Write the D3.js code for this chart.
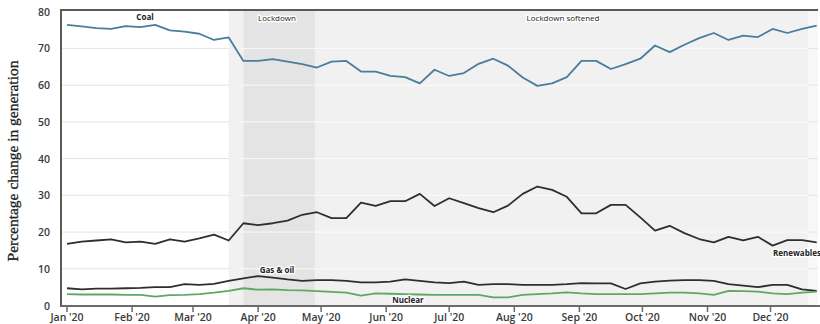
<!DOCTYPE html>
<html><head><meta charset="utf-8">
<script src="https://cdn.jsdelivr.net/npm/d3@7"></script>
<style>body{margin:0;background:#fff;}svg{display:block;}</style>
</head><body><svg id="c" width="820" height="324"></svg>
<script>
const startDate = "2020-01-01";
const coal = [76.4,76.0,75.5,75.3,76.1,75.8,76.4,74.9,74.6,74.0,72.3,73.0,66.6,66.6,67.1,66.4,65.7,64.8,66.4,66.6,63.7,63.7,62.5,62.2,60.5,64.2,62.5,63.3,65.8,67.2,65.3,62.1,59.8,60.5,62.2,66.6,66.6,64.4,65.7,67.2,70.8,69.0,71.0,72.8,74.2,72.3,73.5,73.1,75.3,74.2,75.3,76.2];
const renewables = [16.8,17.4,17.7,18.0,17.2,17.4,16.8,18.0,17.4,18.3,19.3,17.7,22.4,21.9,22.4,23.1,24.7,25.4,23.8,23.8,28.0,27.1,28.4,28.4,30.4,27.1,29.2,27.9,26.5,25.4,27.2,30.4,32.4,31.5,29.6,25.1,25.1,27.4,27.4,24.0,20.4,21.7,19.7,18.1,17.2,18.7,17.7,18.7,16.3,17.8,17.8,17.2];
const gasOil = [4.7,4.4,4.6,4.6,4.7,4.8,5.0,5.0,5.8,5.6,5.9,6.7,7.4,8.0,7.6,7.1,6.7,6.9,6.9,6.7,6.3,6.3,6.5,7.1,6.7,6.3,6.1,6.5,5.6,5.8,5.8,5.6,5.6,5.6,5.8,6.1,6.0,6.0,4.5,6.0,6.5,6.8,6.9,6.9,6.7,5.8,5.4,5.0,5.6,5.6,4.4,4.0];
const nuclear = [3.1,3.0,3.0,3.0,2.9,2.9,2.4,2.8,2.9,3.1,3.5,4.0,4.7,4.3,4.4,4.2,4.1,3.9,3.7,3.5,2.7,3.3,3.2,3.1,3.0,2.9,2.9,2.9,2.9,2.2,2.2,2.9,3.1,3.3,3.6,3.3,3.1,3.1,3.1,3.1,3.3,3.5,3.5,3.3,2.9,4.0,3.9,3.8,3.3,3.1,3.5,3.8];
const yTicks = [0,10,20,30,40,50,60,70,80];
const monthTicks = ["2020-01-01","2020-02-01","2020-03-01","2020-04-01","2020-05-01","2020-06-01","2020-07-01","2020-08-01","2020-09-01","2020-10-01","2020-11-01","2020-12-01"];
const monthLabels = ["Jan '20","Feb '20","Mar '20","Apr '20","May '20","Jun '20","Jul '20","Aug '20","Sep '20","Oct '20","Nov '20","Dec '20"];
const phases = [
  {name:"Lockdown softened", start:"2020-03-18", end:"2020-12-19", fill:"#f1f1f1"},
  {name:"Lockdown", start:"2020-03-25", end:"2020-04-28", fill:"#e4e4e4"}
];
const seriesNames = ["Coal","Renewables","Gas & oil","Nuclear"];

const svg = d3.select("#c");
const parse = d3.utcParse("%Y-%m-%d");
const t0 = parse(startDate);
const dates = coal.map((_, i) => d3.utcDay.offset(t0, 7*i));

const pL = 62, pR = 818, pT = 10, pB = 306;
const x = d3.scaleUtc().domain([parse("2020-01-01"), parse("2020-12-31")]).range([67, 67 + 365*2.1]);
const y = d3.scaleLinear().domain([0, 80]).range([305.5, 11.7]);

svg.append("defs").append("clipPath").attr("id","clip")
  .append("rect").attr("x",pL).attr("y",pT).attr("width",pR-pL).attr("height",pB-pT);

svg.append("rect").attr("x", pL).attr("y", pT).attr("width", pR-pL).attr("height", pB-pT).attr("fill","#fff");
svg.append("rect").attr("x", x(parse(phases[0].end))).attr("y", pT).attr("width", pR - x(parse(phases[0].end))).attr("height", pB-pT).attr("fill","#f8f8f8");

const g = svg.append("g").attr("clip-path","url(#clip)");
g.selectAll(".grid").data(yTicks.filter(d => d>0 && d<80)).enter().append("line")
  .attr("x1", pL).attr("x2", pR).attr("y1", d=>y(d)).attr("y2", d=>y(d))
  .attr("stroke","#e9e2e2").attr("stroke-width",1);

phases.forEach(p => {
  g.append("rect").attr("x", x(parse(p.start))).attr("y", pT)
    .attr("width", x(parse(p.end)) - x(parse(p.start))).attr("height", pB-pT)
    .attr("fill", p.fill);
});
const s0 = x(parse(phases[0].start)), s1 = x(parse(phases[0].end));
g.selectAll(".grid2").data(yTicks.filter(d => d>0 && d<80)).enter().append("line")
  .attr("x1", s0 + 12).attr("x2", s1).attr("y1", d=>y(d)).attr("y2", d=>y(d))
  .attr("stroke","#fafafa").attr("stroke-width",1);

const line = d3.line().x((d,i)=>x(dates[i])).y(d=>y(d));
const series = [
  {vals: coal, color:"#4a7d9a"},
  {vals: renewables, color:"#2e2e2e"},
  {vals: gasOil, color:"#2e2e2e"},
  {vals: nuclear, color:"#5fa862"}
];
series.forEach(s => {
  g.append("path").datum(s.vals).attr("d", line).attr("fill","none")
    .attr("stroke", s.color).attr("stroke-width", 1.8).attr("stroke-linejoin","round");
});

svg.append("line").attr("x1", pL-1).attr("x2", pR).attr("y1", pT).attr("y2", pT).attr("stroke","#5a5a5a").attr("stroke-width",2);
svg.append("line").attr("x1", pL-1).attr("x2", pL-1).attr("y1", pT-1).attr("y2", pB).attr("stroke","#5a5a5a").attr("stroke-width",2);
svg.append("line").attr("x1", pL-2).attr("x2", 820).attr("y1", pB).attr("y2", pB).attr("stroke","#6a6a6a").attr("stroke-width",2);

const xa = svg.append("g");
monthTicks.forEach((m,i) => {
  const xx = x(parse(m));
  xa.append("line").attr("x1",xx).attr("x2",xx).attr("y1",pB).attr("y2",pB+6).attr("stroke","#6a6a6a").attr("stroke-width",1.5);
  xa.append("text").attr("x",xx).attr("y",pB+15).attr("text-anchor","middle")
    .attr("font-family","Open Sans, sans-serif").attr("font-size",10.5).attr("font-weight",600).attr("fill","#3a3a3a").text(monthLabels[i]);
});
yTicks.forEach(v => {
  svg.append("text").attr("x",50).attr("y",y(v)+4).attr("text-anchor","end")
    .attr("font-family","Open Sans, sans-serif").attr("font-size",10.5).attr("font-weight",600).attr("fill","#3a3a3a").text(v);
});
svg.append("text").attr("transform","translate(18,161) rotate(-90)").attr("text-anchor","middle")
  .attr("font-family","Liberation Serif, serif").attr("font-size",15.5).attr("fill","#222")
  .attr("stroke","#222").attr("stroke-width",0.3)
  .text("Percentage change in generation");

function label(txt, xx, yy, anchor, weight) {
  svg.append("text").attr("x",xx).attr("y",yy).attr("text-anchor",anchor)
    .attr("font-family","Open Sans, sans-serif").attr("font-size",8).attr("font-weight",weight)
    .attr("fill","#222").attr("stroke","#fff").attr("stroke-width",2.5).attr("paint-order","stroke")
    .text(txt);
}
label(seriesNames[0], 145, 20, "middle", 700);
label(phases[1].name, x(parse("2020-04-10")), 21, "middle", 400);
label(phases[0].name, 563, 21, "middle", 400);
label(seriesNames[2], 277, 273, "middle", 700);
label(seriesNames[3], 408, 303, "middle", 700);
label(seriesNames[1], 773, 256, "start", 700);
</script>
</body></html>
